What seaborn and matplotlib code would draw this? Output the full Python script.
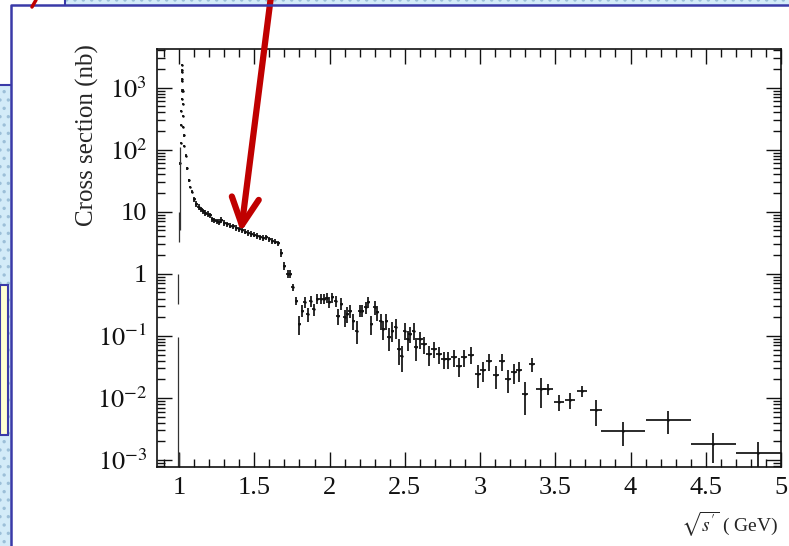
import numpy as np
import pandas as pd
import matplotlib
matplotlib.use('Agg')
import matplotlib.pyplot as plt
from matplotlib.patches import Rectangle, FancyArrowPatch
from matplotlib.lines import Line2D
from matplotlib.transforms import IdentityTransform
from matplotlib.ticker import MultipleLocator, LogLocator, FuncFormatter, NullFormatter
import seaborn as sns

# --- data ----------------------------------------------------------------
# phi peak (dots, tiny errors)
peak_x = [1.008, 1.011, 1.013, 1.015, 1.016, 1.017, 1.018, 1.019, 1.020,
          1.021, 1.022, 1.023, 1.025, 1.027, 1.029, 1.031]
peak_y = [60, 130, 250, 420, 650, 900, 1300, 1800, 2300,
          1900, 1400, 900, 550, 350, 230, 170]

# continuum above the phi, up to the drop at 1.8 GeV
cont_x = [1.035, 1.045, 1.055, 1.065, 1.075, 1.085, 1.100, 1.115, 1.130, 1.145,
          1.160, 1.175, 1.190, 1.205, 1.220, 1.235, 1.250, 1.265, 1.280, 1.300,
          1.320, 1.340, 1.360, 1.380, 1.400, 1.420, 1.440, 1.460, 1.480, 1.500,
          1.520, 1.540, 1.560, 1.580, 1.600, 1.620, 1.640, 1.660, 1.680, 1.700,
          1.722, 1.740, 1.755, 1.778]
cont_y = [115, 80, 50, 32, 25, 21, 16, 13.5, 12, 11,
          10.2, 9.6, 9.2, 8.8, 7.6, 7.3, 7.0, 6.9, 7.4, 6.6,
          6.3, 6.0, 5.8, 5.5, 5.2, 5.0, 4.8, 4.6, 4.4, 4.3,
          4.1, 3.9, 3.8, 3.9, 3.6, 3.4, 3.3, 3.1, 2.2, 1.35,
          1.0, 1.0, 0.61, 0.37]
cont_rel = [0.05] * 6 + [0.1] * 32 + [0.14] * 6

# 1.8 - 3.35 GeV region
mid_x = [1.800, 1.818, 1.835, 1.855, 1.875, 1.895, 1.918, 1.940, 1.962, 1.980,
         1.998, 2.018, 2.040, 2.055, 2.078, 2.100, 2.118, 2.135, 2.158, 2.180,
         2.200, 2.218, 2.240, 2.258, 2.278, 2.300, 2.318, 2.340, 2.358, 2.378,
         2.395, 2.418, 2.440, 2.462, 2.480, 2.500, 2.518, 2.535, 2.558, 2.575,
         2.598, 2.625, 2.662, 2.695, 2.725, 2.758, 2.788, 2.825, 2.862, 2.895,
         2.940, 2.985, 3.022, 3.062, 3.107, 3.145, 3.185, 3.225, 3.262, 3.300,
         3.347]
mid_y = [0.156, 0.256, 0.35, 0.227, 0.37, 0.27, 0.395, 0.395, 0.395, 0.41,
         0.35, 0.42, 0.37, 0.21, 0.33, 0.20, 0.227, 0.256, 0.176, 0.122,
         0.256, 0.256, 0.29, 0.35, 0.156, 0.29, 0.24, 0.176, 0.13, 0.176,
         0.095, 0.122, 0.138, 0.062, 0.048, 0.122, 0.089, 0.108, 0.122, 0.066,
         0.089, 0.074, 0.051, 0.062, 0.051, 0.042, 0.042, 0.045, 0.033, 0.045,
         0.05, 0.0245, 0.028, 0.039, 0.0236, 0.039, 0.0203, 0.026, 0.028, 0.0117,
         0.035]
mid_rel = [0.35, 0.22, 0.2, 0.25, 0.2, 0.22, 0.18, 0.18, 0.18, 0.18,
           0.2, 0.18, 0.2, 0.3, 0.22, 0.3, 0.28, 0.25, 0.3, 0.4,
           0.22, 0.22, 0.22, 0.2, 0.35, 0.25, 0.28, 0.3, 0.35, 0.3,
           0.4, 0.35, 0.35, 0.45, 0.45, 0.3, 0.35, 0.3, 0.3, 0.4,
           0.3, 0.3, 0.35, 0.3, 0.3, 0.3, 0.3, 0.3, 0.35, 0.3,
           0.3, 0.4, 0.35, 0.3, 0.4, 0.3, 0.4, 0.35, 0.35, 0.55,
           0.25]

# wider bins at high energy
high_x = [3.407, 3.450, 3.522, 3.600, 3.680, 3.770, 3.950, 4.250, 4.550, 4.850]
high_y = [0.0139, 0.0139, 0.0087, 0.0093, 0.0129, 0.0063, 0.0029, 0.0044, 0.0018, 0.00128]
high_bin = [0.033, 0.033, 0.033, 0.033, 0.033, 0.04, 0.145, 0.15, 0.15, 0.15]
high_rel = [0.5, 0.2, 0.3, 0.3, 0.2, 0.45, 0.42, 0.4, 0.5, 0.5]

# points just below the phi with large errors (lower / upper ends)
low_x = [0.990, 0.995, 0.998, 1.000, 1.004]
low_y = [0.040, 0.62, 0.0008, 4.0, 30]
low_dn = [1e-4, 0.33, 1e-4, 3.3, 5]
low_up = [0.095, 1.0, 0.0013, 10, 110]

# --- assemble -------------------------------------------------------------
def block(x, y, half, rel):
    y = np.asarray(y, float)
    rel = np.asarray(rel, float)
    return pd.DataFrame({'sqrt_s': x, 'xsec': y,
                         'half_bin': half,
                         'lo': y * rel, 'hi': y * rel})

df = pd.concat([
    block(peak_x, peak_y, 0.001, 0.04),
    block(cont_x, cont_y, [0.004] * 6 + [0.011] * 38, cont_rel),
    block(mid_x, mid_y, [0.011] * 40 + [0.02] * 21, mid_rel),
    block(high_x, high_y, high_bin, high_rel),
], ignore_index=True)

low = pd.DataFrame({'sqrt_s': low_x, 'xsec': low_y})
low['lo'] = low['xsec'] - np.array(low_dn)
low['hi'] = np.array(low_up) - low['xsec']

# --- style ----------------------------------------------------------------
sns.set_theme(style='ticks')
plt.rcParams['font.family'] = ['Liberation Serif', 'DejaVu Serif']
plt.rcParams['mathtext.fontset'] = 'stix'

fig = plt.figure(figsize=(7.89, 5.46), dpi=100)
fig.patch.set_facecolor('white')
ax = fig.add_axes([157 / 789, 79 / 546, 624 / 789, 418 / 546])

ax.errorbar(df['sqrt_s'], df['xsec'], xerr=df['half_bin'],
            yerr=[df['lo'], df['hi']], fmt='none', ecolor='#111111',
            elinewidth=1.25, capsize=0)
ax.errorbar(low['sqrt_s'], low['xsec'], yerr=[low['lo'], low['hi']],
            fmt='none', ecolor='#333333', elinewidth=0.9, capsize=0)
sns.scatterplot(data=df, x='sqrt_s', y='xsec', ax=ax, color='black',
                s=3, linewidth=0, legend=False)

ax.set_yscale('log')
ax.set_xlim(0.853, 5.0)
ax.set_ylim(7.7e-4, 4200)
ax.set_xlabel('')
ax.set_ylabel('')
ax.xaxis.label.set_visible(False)
ax.yaxis.label.set_visible(False)


def log_label(v, pos):
    n = int(round(np.log10(v)))
    if n == 0:
        return '1'
    if n == 1:
        return '10'
    return r'$10^{%d}$' % n


ax.xaxis.set_major_locator(MultipleLocator(0.5))
ax.xaxis.set_minor_locator(MultipleLocator(0.1))
ax.xaxis.set_major_formatter(FuncFormatter(lambda v, p: '%g' % v))
ax.yaxis.set_major_locator(LogLocator(base=10, numticks=20))
ax.yaxis.set_minor_locator(LogLocator(base=10, subs=np.arange(2, 10), numticks=20))
ax.yaxis.set_major_formatter(FuncFormatter(log_label))
ax.yaxis.set_minor_formatter(NullFormatter())

ax.tick_params(which='both', direction='in', top=True, right=True,
               colors='#111111', width=1.0)
ax.tick_params(which='major', length=11, labelsize=19, pad=7)
ax.tick_params(which='minor', length=5.5)
for sp in ax.spines.values():
    sp.set_color('#111111')
    sp.set_linewidth(1.2)

fig.text(87 / 789, 0.753, 'Cross section (nb)', rotation=90,
         ha='center', va='center', fontsize=18)
fig.text(778 / 789, 0.040, r"$\sqrt{s'}$ ( GeV)", ha='right', va='center',
         fontsize=14)

# --- slide decorations around the plot ------------------------------------
blue = '#3a3aa8'
dot_fill = '#d3ebf8'
plt.rcParams['hatch.linewidth'] = 1.2
fig.add_artist(Rectangle((65 / 789, 541 / 546), 724 / 789, 5 / 546,
                         transform=fig.transFigure, facecolor=dot_fill,
                         edgecolor='#9cbfd8', hatch='..', lw=0))
fig.add_artist(Rectangle((0, 0), 11 / 789, 461 / 546,
                         transform=fig.transFigure, facecolor=dot_fill,
                         edgecolor='#9cbfd8', hatch='..', lw=0))
fig.add_artist(Rectangle((0, 111 / 546), 8 / 789, 150 / 546,
                         transform=fig.transFigure, facecolor='#ffffd2',
                         edgecolor=blue, lw=1.5))
fig.add_artist(Line2D([11 / 789, 11 / 789, 1], [0, 541 / 546, 541 / 546],
                      transform=fig.transFigure, color=blue, lw=1.8))
fig.add_artist(Line2D([0, 11 / 789], [461 / 546, 461 / 546],
                      transform=fig.transFigure, color=blue, lw=1.5))
fig.add_artist(Line2D([65 / 789, 65 / 789], [541 / 546, 1],
                      transform=fig.transFigure, color=blue, lw=1.5))
fig.add_artist(Line2D([36 / 789, 32 / 789], [1, 539 / 546],
                      transform=fig.transFigure, color='#c00000', lw=2.5))

# red arrow pointing at the plateau (figure pixels, origin bottom-left)
fig.add_artist(FancyArrowPatch((271, 550), (241, 546 - 232),
                               transform=IdentityTransform(),
                               arrowstyle='->,head_length=1.3,head_width=0.65',
                               mutation_scale=15, lw=4.5, color='#c00000',
                               shrinkA=0, shrinkB=0))

fig.savefig('out.png', dpi=100)
plt.close(fig)
